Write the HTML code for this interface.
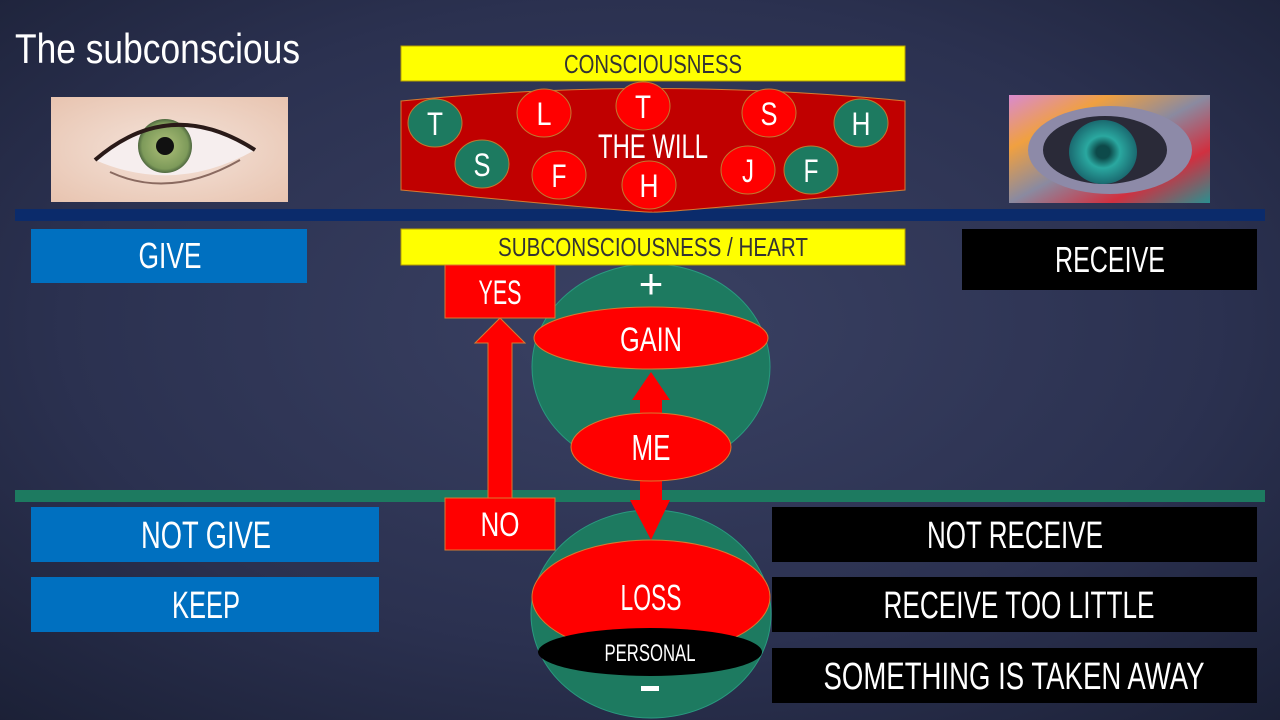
<!DOCTYPE html>
<html><head><meta charset="utf-8"><style>
html,body{margin:0;padding:0;width:1280px;height:720px;overflow:hidden;background:#262c47}
svg{display:block}
text{font-family:"Liberation Sans",sans-serif;}
</style></head><body>
<svg width="1280" height="720" viewBox="0 0 1280 720" xmlns="http://www.w3.org/2000/svg">
<defs>
<radialGradient id="bg" cx="0.5" cy="0.45" r="0.75">
<stop offset="0" stop-color="#3a4163"/><stop offset="0.6" stop-color="#2b3150"/><stop offset="1" stop-color="#1b2036"/>
</radialGradient>
<radialGradient id="skin" cx="0.5" cy="0.5" r="0.7">
<stop offset="0" stop-color="#f4e3da"/><stop offset="1" stop-color="#e8c4b0"/>
</radialGradient>
<radialGradient id="iris1" cx="0.5" cy="0.5" r="0.5">
<stop offset="0.3" stop-color="#9db36e"/><stop offset="0.85" stop-color="#7d9a5a"/><stop offset="1" stop-color="#4f6840"/>
</radialGradient>
<linearGradient id="rain" x1="0" y1="0" x2="1" y2="1">
<stop offset="0" stop-color="#d98ad0"/><stop offset="0.25" stop-color="#f0a040"/><stop offset="0.5" stop-color="#8a8aa0"/><stop offset="0.75" stop-color="#d03040"/><stop offset="1" stop-color="#2a9090"/>
</linearGradient>
<radialGradient id="iris2" cx="0.5" cy="0.5" r="0.5">
<stop offset="0.2" stop-color="#0d4a4a"/><stop offset="0.5" stop-color="#2aa8a0"/><stop offset="1" stop-color="#1a6a70"/>
</radialGradient>
</defs>
<rect width="1280" height="720" fill="url(#bg)"/>

<text x="15" y="63" font-size="42" fill="#fff" textLength="285" lengthAdjust="spacingAndGlyphs">The subconscious</text>

<!-- left eye -->
<rect x="51" y="97" width="237" height="105" fill="url(#skin)"/>
<path d="M95,160 Q170,95 255,150 Q175,195 95,160Z" fill="#f6eeee"/>
<circle cx="165" cy="146" r="27" fill="url(#iris1)"/>
<circle cx="165" cy="146" r="9" fill="#111"/>
<path d="M95,160 Q170,95 255,150" fill="none" stroke="#2a1a18" stroke-width="4"/>
<path d="M110,172 Q170,200 240,160" fill="none" stroke="#8a6a60" stroke-width="2"/>

<!-- right eye -->
<rect x="1009" y="95" width="201" height="108" fill="url(#rain)"/>
<ellipse cx="1110" cy="150" rx="82" ry="44" fill="#8d8aa8"/>
<ellipse cx="1105" cy="150" rx="62" ry="34" fill="#2a2a38"/>
<ellipse cx="1103" cy="152" rx="34" ry="32" fill="url(#iris2)"/>

<!-- blue line -->
<rect x="15" y="209" width="1250" height="12" fill="#0b2b6b"/>

<!-- consciousness -->
<rect x="401" y="46" width="504" height="35" fill="#ffff00" stroke="#b8a000" stroke-width="1"/>
<text x="653" y="73" font-size="26" fill="#333" text-anchor="middle" textLength="178" lengthAdjust="spacingAndGlyphs">CONSCIOUSNESS</text>

<path d="M401,101 Q653,76 905,101 L905,190 Q653,214 653,212 Q653,214 401,190Z" fill="#c00000" stroke="#d87a30" stroke-width="1"/>
<g stroke="#c07a30" stroke-width="1">
<ellipse cx="435" cy="123" rx="27" ry="24" fill="#1d7a60"/>
<ellipse cx="544" cy="113" rx="27" ry="24" fill="#ff0000"/>
<ellipse cx="643" cy="106" rx="27" ry="24" fill="#ff0000"/>
<ellipse cx="769" cy="113" rx="27" ry="24" fill="#ff0000"/>
<ellipse cx="861" cy="123" rx="27" ry="24" fill="#1d7a60"/>
<ellipse cx="482" cy="164" rx="27" ry="24" fill="#1d7a60"/>
<ellipse cx="559" cy="175" rx="27" ry="24" fill="#ff0000"/>
<ellipse cx="649" cy="185" rx="27" ry="24" fill="#ff0000"/>
<ellipse cx="748" cy="170" rx="27" ry="24" fill="#ff0000"/>
<ellipse cx="811" cy="170" rx="27" ry="24" fill="#1d7a60"/>
</g>
<g fill="#fff" font-size="32" text-anchor="middle">
<text x="435" y="135" textLength="16" lengthAdjust="spacingAndGlyphs">T</text>
<text x="544" y="125" textLength="15" lengthAdjust="spacingAndGlyphs">L</text>
<text x="643" y="118" textLength="16" lengthAdjust="spacingAndGlyphs">T</text>
<text x="769" y="125" textLength="17" lengthAdjust="spacingAndGlyphs">S</text>
<text x="861" y="135" textLength="19" lengthAdjust="spacingAndGlyphs">H</text>
<text x="482" y="176" textLength="17" lengthAdjust="spacingAndGlyphs">S</text>
<text x="559" y="187" textLength="15" lengthAdjust="spacingAndGlyphs">F</text>
<text x="649" y="197" textLength="19" lengthAdjust="spacingAndGlyphs">H</text>
<text x="748" y="182" textLength="12" lengthAdjust="spacingAndGlyphs">J</text>
<text x="811" y="182" textLength="15" lengthAdjust="spacingAndGlyphs">F</text>
<text x="653" y="158" font-size="34" textLength="110" lengthAdjust="spacingAndGlyphs">THE WILL</text>
</g>

<rect x="31" y="229" width="276" height="54" fill="#0070c0"/>
<text x="170" y="268" font-size="36" fill="#fff" text-anchor="middle" textLength="63" lengthAdjust="spacingAndGlyphs">GIVE</text>
<rect x="962" y="229" width="295" height="61" fill="#000"/>
<text x="1110" y="272" font-size="36" fill="#fff" text-anchor="middle" textLength="110" lengthAdjust="spacingAndGlyphs">RECEIVE</text>

<!-- top circle -->
<ellipse cx="651" cy="367" rx="119" ry="103" fill="#1d7a60" stroke="#2a9a80" stroke-width="1"/>
<!-- subconsciousness -->
<rect x="401" y="229" width="504" height="36" fill="#ffff00" stroke="#b8a000" stroke-width="1"/>
<text x="653" y="256" font-size="26" fill="#333" text-anchor="middle" textLength="310" lengthAdjust="spacingAndGlyphs">SUBCONSCIOUSNESS / HEART</text>

<text x="651" y="298" font-size="42" fill="#fff" text-anchor="middle">+</text>
<ellipse cx="651" cy="338" rx="117" ry="31" fill="#ff0000" stroke="#d87a30"/>
<text x="651" y="351" font-size="34" fill="#fff" text-anchor="middle" textLength="62" lengthAdjust="spacingAndGlyphs">GAIN</text>
<polygon points="640,420 662,420 662,400 670,400 651,372 632,400 640,400" fill="#ff0000"/>

<!-- green line -->
<rect x="15" y="490" width="1250" height="12" fill="#1d7a60"/>

<!-- bottom circle -->
<ellipse cx="651" cy="614" rx="120" ry="104" fill="#1d7a60" stroke="#2a9a80"/>
<ellipse cx="651" cy="597" rx="119" ry="57" fill="#ff0000" stroke="#d87a30"/>
<text x="651" y="610" font-size="36" fill="#fff" text-anchor="middle" textLength="61" lengthAdjust="spacingAndGlyphs">LOSS</text>
<ellipse cx="650" cy="652" rx="112" ry="24" fill="#000"/>
<text x="650" y="661" font-size="24" fill="#fff" text-anchor="middle" textLength="91" lengthAdjust="spacingAndGlyphs">PERSONAL</text>
<rect x="641" y="686" width="18" height="5" fill="#fff"/>

<!-- ME + down arrow -->
<polygon points="640,470 662,470 662,500 670,500 651,540 630,500 640,500" fill="#ff0000"/>
<ellipse cx="651" cy="447" rx="80" ry="34" fill="#ff0000" stroke="#d87a30"/>
<text x="651" y="460" font-size="36" fill="#fff" text-anchor="middle" textLength="39" lengthAdjust="spacingAndGlyphs">ME</text>

<!-- yes/no -->
<polygon points="488,498 512,498 512,343 525,343 500,318 475,343 488,343" fill="#ff0000" stroke="#d87a30"/>
<rect x="445" y="265" width="110" height="53" fill="#ff0000" stroke="#d87a30"/>
<text x="500" y="304" font-size="34" fill="#fff" text-anchor="middle" textLength="43" lengthAdjust="spacingAndGlyphs">YES</text>
<rect x="445" y="498" width="110" height="52" fill="#ff0000" stroke="#d87a30"/>
<text x="500" y="536" font-size="34" fill="#fff" text-anchor="middle" textLength="39" lengthAdjust="spacingAndGlyphs">NO</text>

<!-- left boxes -->
<rect x="31" y="507" width="348" height="55" fill="#0070c0"/>
<text x="206" y="548" font-size="38" fill="#fff" text-anchor="middle" textLength="130" lengthAdjust="spacingAndGlyphs">NOT GIVE</text>
<rect x="31" y="577" width="348" height="55" fill="#0070c0"/>
<text x="206" y="618" font-size="38" fill="#fff" text-anchor="middle" textLength="68" lengthAdjust="spacingAndGlyphs">KEEP</text>

<!-- right boxes -->
<rect x="772" y="507" width="485" height="55" fill="#000"/>
<text x="1015" y="548" font-size="38" fill="#fff" text-anchor="middle" textLength="176" lengthAdjust="spacingAndGlyphs">NOT RECEIVE</text>
<rect x="772" y="577" width="485" height="55" fill="#000"/>
<text x="1019" y="618" font-size="38" fill="#fff" text-anchor="middle" textLength="271" lengthAdjust="spacingAndGlyphs">RECEIVE TOO LITTLE</text>
<rect x="772" y="648" width="485" height="55" fill="#000"/>
<text x="1014" y="689" font-size="38" fill="#fff" text-anchor="middle" textLength="381" lengthAdjust="spacingAndGlyphs">SOMETHING IS TAKEN AWAY</text>
</svg>
</body></html>
